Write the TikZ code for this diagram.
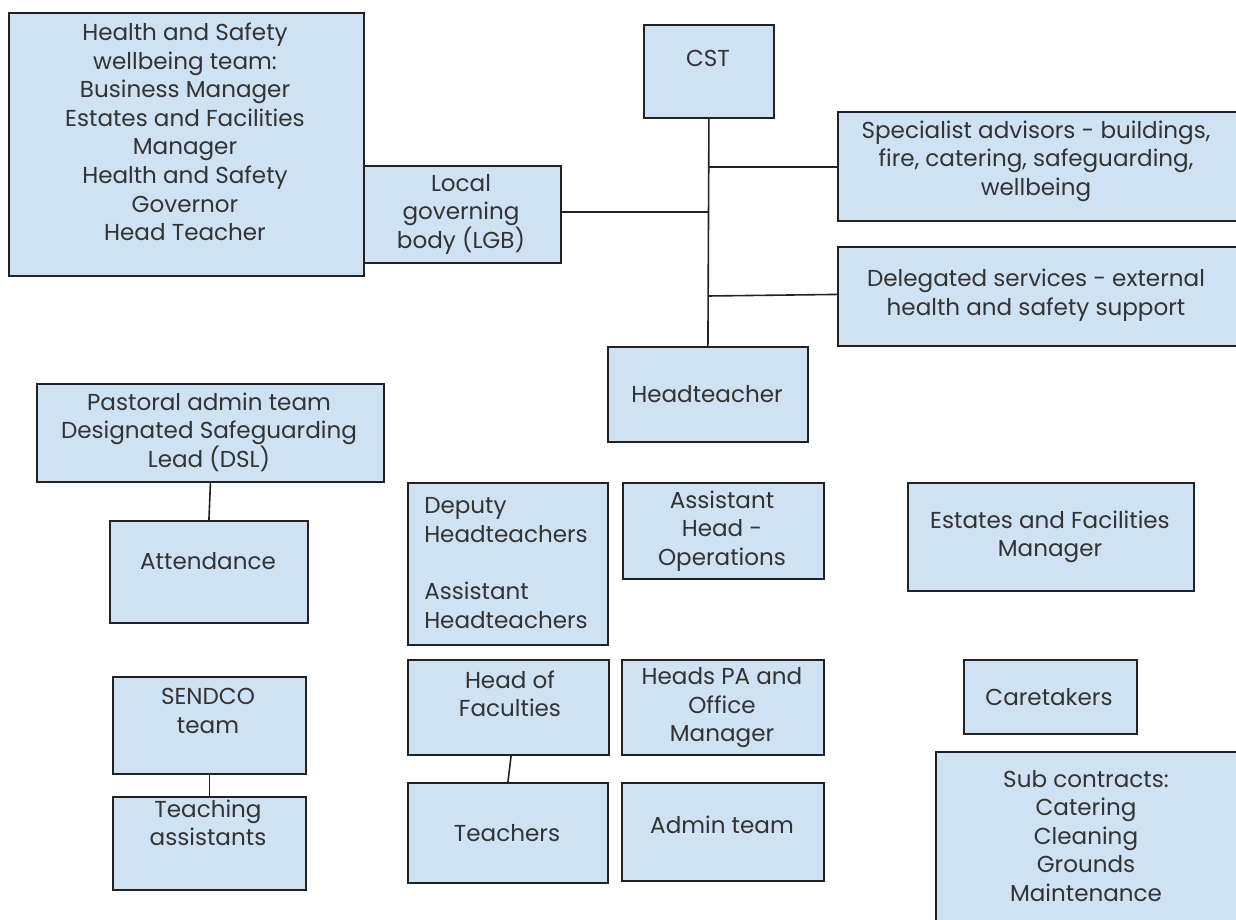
\documentclass[tikz,border=0pt]{standalone}
\usepackage{fontspec}
\setmainfont{Poppins}
\definecolor{boxfill}{HTML}{CFE2F3}
\definecolor{boxline}{HTML}{222222}
\definecolor{txtcol}{HTML}{333333}
\tikzset{
  orgbox/.style={draw=boxline, fill=boxfill, line width=1.4pt, inner sep=0pt, anchor=north west},
  lbl/.style={text=txtcol, align=center, inner sep=0pt, font=\fontsize{17.3}{21.4}\selectfont},
  lnk/.style={draw=boxline, line width=1.2pt}
}
\newcommand{\orgrect}[5]{% name, x1, y1, x2, y2
  \node[orgbox, minimum width={(#4-#2)*0.75pt}, minimum height={(#5-#3)*0.75pt}] (#1) at (#2,#3) {};}
\begin{document}
\begin{tikzpicture}[x=0.75pt,y=-0.75pt]
\useasboundingbox (0,0) rectangle (1236,920);
% boxes
\orgrect{hs}{8}{12}{363}{275}
\orgrect{lgb}{363}{165}{560}{262}
\orgrect{cst}{643}{24}{773}{117}
\orgrect{spec}{837}{111}{1240}{220}
\orgrect{deleg}{837}{246}{1240}{345}
\orgrect{head}{607}{346}{807}{441}
\orgrect{past}{36}{383}{383}{481}
\orgrect{att}{109}{520}{307}{622}
\orgrect{dep}{407}{482}{607}{644}
\orgrect{ops}{622}{482}{823}{578}
\orgrect{efm}{907}{482}{1193}{590}
\orgrect{sen}{112}{676}{305}{773}
\orgrect{ta}{112}{796}{305}{889}
\orgrect{hof}{407}{659}{608}{754}
\orgrect{pa}{621}{659}{823}{754}
\orgrect{tea}{407}{782}{607}{882}
\orgrect{adm}{621}{782}{823}{880}
\orgrect{care}{963}{659}{1136}{733}
\orgrect{sub}{935}{751}{1240}{925}
% texts
\node[lbl] (thst) at (185,132) {Health and Safety\\wellbeing team:\\Business Manager\\Estates and Facilities\\Manager\\Health and Safety\\Governor\\Head Teacher};
\node[lbl] (tlgb) at (461,214) {Local\\governing\\body (LGB)};
\node[lbl] (tcst) at (708,58) {CST};
\node[lbl] (tspec) at (1036,161) {Specialist advisors - buildings,\\fire, catering, safeguarding,\\wellbeing};
\node[lbl] (tdel) at (1036,295) {Delegated services - external\\health and safety support};
\node[lbl] (thead) at (707,394) {Headteacher};
\node[lbl] (tpast) at (209,432) {Pastoral admin team\\Designated Safeguarding\\Lead (DSL)};
\node[lbl] (tatt) at (208,561) {Attendance};
\node[lbl, align=left, anchor=west] (tdep) at (424,563) {Deputy\\Headteachers\\\mbox{}\\Assistant\\Headteachers};
\node[lbl] (tops) at (722,531) {Assistant\\Head -\\Operations};
\node[lbl] (tefm) at (1050,537) {Estates and Facilities\\Manager};
\node[lbl] (tsen) at (208,711) {SENDCO\\team};
\node[lbl] (tta) at (208,823) {Teaching\\assistants};
\node[lbl] (thof) at (510,694) {Head of\\Faculties};
\node[lbl] (tpa) at (722,708) {Heads PA and\\Office\\Manager};
\node[lbl] (ttea) at (507,833) {Teachers};
\node[lbl] (tadm) at (722,825) {Admin team};
\node[lbl] (tcare) at (1049,697) {Caretakers};
\node[lbl] (tsub) at (1086,836) {Sub contracts:\\Catering\\Cleaning\\Grounds\\Maintenance};
% connectors
\coordinate (jlgb) at (708,212);
\coordinate (jspec) at (708,167);
\coordinate (jdel) at (708,296);
\draw[lnk] (cst.south) -- (head.north);
\draw[lnk] (lgb.east |- jlgb) -- (jlgb);
\draw[lnk] (jspec) -- (spec.west |- jspec);
\draw[lnk] (jdel) -- ([yshift=1.5pt]deleg.west);
\draw[lnk] (past.south) -- (att.north);
\draw[lnk] (sen.south) -- (ta.north);
\draw[lnk] ([xshift=2pt]hof.south) -- (tea.north);
\end{tikzpicture}
\end{document}
